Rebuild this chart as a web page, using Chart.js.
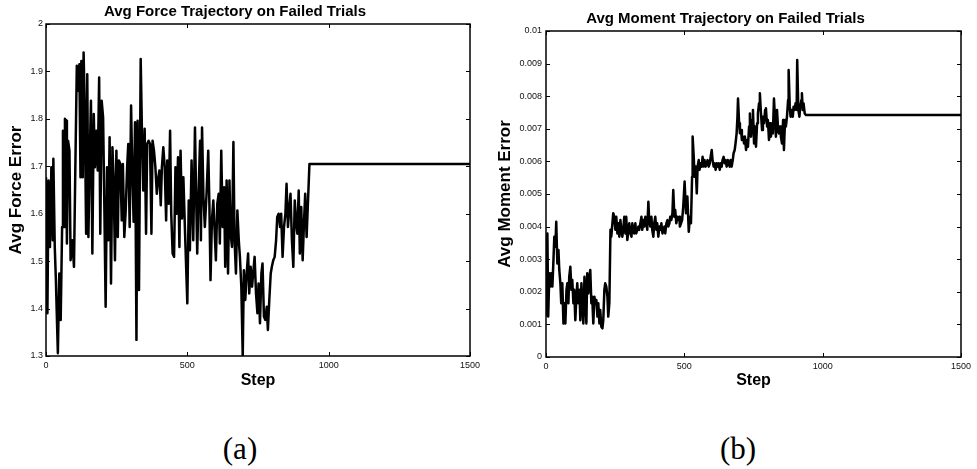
<!DOCTYPE html>
<html>
<head>
<meta charset="utf-8">
<script src="https://cdn.jsdelivr.net/npm/chart.js@4.4.1/dist/chart.umd.min.js"></script>
<style>
  html, body { margin: 0; padding: 0; background: #fff; }
  body { width: 977px; height: 469px; position: relative; overflow: hidden; }
  .box { position: absolute; }
  .cap { position: absolute; font-family: 'Liberation Serif', 'DejaVu Serif', serif; font-size: 31px; line-height: 31px; color: #000; transform: translate(-50%, -50%); white-space: nowrap; }
</style>
</head>
<body>
<div class="box" id="boxA" style="left:0px; top:0px; width:490px; height:400px;"><canvas id="chartA"></canvas></div>
<div class="box" id="boxB" style="left:490px; top:0px; width:487px; height:400px;"><canvas id="chartB"></canvas></div>
<div class="cap" style="left:240px; top:448px;">(a)</div>
<div class="cap" style="left:738px; top:448px;">(b)</div>
<script>
// ---------------- data ----------------
const forceSteps = [
  0,5,9,14,19,24,26,31,35,40,
  42,47,52,57,60,64,67,71,74,78,
  83,87,93,99,103,109,113,118,122,125,
  130,133,137,142,146,150,155,159,164,169,
  173,178,183,188,192,197,202,206,211,216,
  220,225,230,235,239,244,249,254,258,263,
  268,272,277,282,287,291,296,301,305,310,
  315,320,324,329,335,340,344,349,354,358,
  363,368,373,377,382,387,392,396,401,406,
  410,415,420,425,429,434,439,443,448,453,
  458,462,467,472,476,481,486,492,500,505,
  509,515,521,527,531,535,540,545,548,552,
  557,562,568,574,578,582,587,592,597,601,
  606,611,615,620,625,630,634,639,644,649,
  653,658,663,667,672,677,682,686,691,696,
  700,705,710,715,719,724,729,733,738,743,
  748,752,757,762,766,771,776,781,785,790,
  795,799,804,809,814,818,823,828,832,837,
  842,847,851,856,861,865,870,875,880,884,
  889,894,898,903,908,913,917,922,927,932,
  1500
];
const forceValues = [
  1.677,1.390,1.670,1.530,1.698,1.544,1.716,1.530,1.460,1.348,
  1.306,1.474,1.376,1.572,1.775,1.572,1.800,1.796,1.537,1.754,
  1.733,1.502,1.544,1.488,1.663,1.912,1.859,1.915,1.677,1.922,
  1.677,1.940,1.824,1.558,1.894,1.551,1.726,1.838,1.516,1.810,
  1.698,1.775,1.691,1.887,1.558,1.838,1.803,1.635,1.404,1.698,
  1.544,1.761,1.453,1.740,1.677,1.502,1.733,1.551,1.712,1.705,
  1.586,1.705,1.551,1.607,1.698,1.747,1.572,1.828,1.698,1.583,
  1.793,1.334,1.796,1.439,1.926,1.754,1.649,1.779,1.558,1.747,
  1.754,1.747,1.558,1.754,1.733,1.698,1.642,1.670,1.691,1.618,
  1.698,1.740,1.698,1.586,1.712,1.621,1.775,1.600,1.516,1.509,
  1.698,1.600,1.719,1.530,1.733,1.590,1.677,1.558,1.411,1.628,
  1.523,1.712,1.544,1.782,1.642,1.516,1.649,1.754,1.544,1.782,
  1.635,1.572,1.642,1.733,1.621,1.460,1.586,1.628,1.558,1.502,
  1.621,1.642,1.537,1.733,1.572,1.656,1.488,1.670,1.474,1.670,
  1.558,1.530,1.751,1.544,1.474,1.607,1.544,1.509,1.446,1.300,
  1.481,1.418,1.474,1.516,1.432,1.488,1.446,1.474,1.509,1.432,
  1.390,1.453,1.369,1.474,1.495,1.383,1.376,1.404,1.355,1.418,
  1.474,1.488,1.502,1.509,1.544,1.593,1.600,1.572,1.600,1.509,
  1.572,1.600,1.663,1.572,1.614,1.642,1.544,1.488,1.628,1.586,
  1.558,1.649,1.516,1.614,1.502,1.586,1.642,1.551,1.628,1.705,
  1.705
];
const momentSteps = [
  0,5,8,12,16,19,23,27,30,34,
  37,41,45,48,52,55,59,63,66,70,
  74,77,81,84,88,92,95,99,102,106,
  110,113,117,121,124,128,131,135,139,142,
  146,149,153,157,160,164,167,171,175,178,
  182,186,189,193,196,200,204,207,211,214,
  218,222,225,229,233,236,240,243,247,251,
  254,258,261,265,269,272,276,280,283,287,
  290,294,298,301,305,309,312,316,319,323,
  326,330,334,337,341,345,348,352,355,359,
  363,366,370,373,377,381,384,388,391,395,
  399,402,406,410,413,417,421,424,428,431,
  435,439,442,446,449,453,457,460,464,467,
  471,475,478,482,484,492,496,501,506,511,
  516,520,524,528,530,534,537,541,545,548,
  552,555,559,563,566,570,573,577,581,584,
  588,592,595,599,602,606,610,613,617,620,
  624,628,631,635,638,642,646,649,653,657,
  660,664,667,671,675,678,682,685,689,692,
  694,698,701,705,708,712,716,719,723,727,
  730,734,737,741,745,748,752,755,759,763,
  766,770,773,777,781,784,788,792,795,799,
  802,806,810,813,817,820,824,828,831,835,
  839,842,846,849,853,857,860,864,867,871,
  875,877,881,884,888,892,895,899,902,906,
  908,912,916,919,923,925,928,931,935,940,
  1500
];
const momentValues = [
  0.00124,0.00379,0.00124,0.00257,0.00216,0.00257,0.00216,0.00298,0.00369,0.00338,
  0.00415,0.00287,0.00328,0.00267,0.00226,0.00165,0.00226,0.00103,0.00165,0.00103,
  0.00206,0.00226,0.00165,0.00246,0.00277,0.00206,0.00236,0.00165,0.00206,0.00113,
  0.00185,0.00226,0.00165,0.00206,0.00113,0.00226,0.00165,0.00103,0.00246,0.00185,
  0.00103,0.00257,0.00195,0.00246,0.00267,0.00165,0.00185,0.00103,0.00185,0.00165,
  0.00175,0.00124,0.00165,0.00103,0.00144,0.00093,0.00088,0.00113,0.00206,0.00226,
  0.00216,0.00185,0.00124,0.00165,0.00390,0.00369,0.00410,0.00441,0.00430,0.00390,
  0.00430,0.00379,0.00410,0.00369,0.00420,0.00390,0.00369,0.00400,0.00430,0.00379,
  0.00430,0.00359,0.00390,0.00410,0.00379,0.00369,0.00410,0.00390,0.00379,0.00410,
  0.00379,0.00390,0.00400,0.00390,0.00410,0.00430,0.00390,0.00420,0.00400,0.00430,
  0.00410,0.00390,0.00476,0.00420,0.00400,0.00430,0.00390,0.00369,0.00410,0.00430,
  0.00390,0.00410,0.00369,0.00400,0.00390,0.00410,0.00379,0.00390,0.00400,0.00379,
  0.00410,0.00420,0.00400,0.00410,0.00430,0.00420,0.00441,0.00512,0.00430,0.00451,
  0.00410,0.00430,0.00420,0.00430,0.00400,0.00420,0.00461,0.00538,0.00441,0.00492,
  0.00384,0.00430,0.00410,0.00553,0.00676,0.00614,0.00553,0.00584,0.00502,0.00584,
  0.00604,0.00574,0.00594,0.00584,0.00614,0.00584,0.00604,0.00584,0.00594,0.00604,
  0.00584,0.00594,0.00614,0.00635,0.00604,0.00584,0.00594,0.00574,0.00594,0.00584,
  0.00594,0.00574,0.00594,0.00584,0.00604,0.00614,0.00594,0.00604,0.00584,0.00604,
  0.00594,0.00584,0.00604,0.00584,0.00604,0.00625,0.00635,0.00655,0.00686,0.00737,
  0.00793,0.00717,0.00686,0.00696,0.00666,0.00676,0.00655,0.00676,0.00635,0.00666,
  0.00645,0.00707,0.00747,0.00676,0.00727,0.00758,0.00655,0.00707,0.00645,0.00717,
  0.00747,0.00778,0.00809,0.00747,0.00696,0.00737,0.00717,0.00758,0.00763,0.00707,
  0.00727,0.00666,0.00717,0.00676,0.00707,0.00686,0.00793,0.00727,0.00676,0.00758,
  0.00696,0.00686,0.00707,0.00676,0.00655,0.00727,0.00635,0.00727,0.00707,0.00737,
  0.00788,0.00880,0.00768,0.00737,0.00758,0.00737,0.00768,0.00758,0.00778,0.00758,
  0.00911,0.00758,0.00737,0.00768,0.00788,0.00809,0.00758,0.00778,0.00747,0.00742,
  0.00742
];
const stepTicks = [0, 500, 1000, 1500];
const titles = ['Avg Force Trajectory on Failed Trials', 'Avg Moment Trajectory on Failed Trials'];
const yLabels = ['Avg Force Error', 'Avg Moment Error'];
const xLabel = 'Step';

// ---------------- drawing ----------------
const SANS = "'Liberation Sans', Arial, Helvetica, sans-serif";
Chart.defaults.font.family = SANS;
Chart.defaults.color = '#111';

const framePlugin = {
  id: 'matlabFrame',
  afterDatasetsDraw(chart) {
    const { ctx, chartArea: a, scales: { x, y } } = chart;
    ctx.save();
    ctx.strokeStyle = '#000';
    ctx.lineWidth = 1.5;
    ctx.strokeRect(a.left, a.top, a.right - a.left, a.bottom - a.top);
    ctx.lineWidth = 1;
    const L = 4;
    ctx.beginPath();
    x.ticks.forEach(t => {
      const px = Math.round(x.getPixelForValue(t.value)) + 0.5;
      ctx.moveTo(px, a.bottom); ctx.lineTo(px, a.bottom - L);
      ctx.moveTo(px, a.top); ctx.lineTo(px, a.top + L);
    });
    y.ticks.forEach(t => {
      const py = Math.round(y.getPixelForValue(t.value)) + 0.5;
      ctx.moveTo(a.left, py); ctx.lineTo(a.left + L, py);
      ctx.moveTo(a.right, py); ctx.lineTo(a.right - L, py);
    });
    ctx.stroke();
    ctx.restore();
  }
};

function makeChart(id, steps, values, cfg) {
  const pts = steps.map((s, i) => ({ x: s, y: values[i] }));
  return new Chart(document.getElementById(id), {
    type: 'line',
    data: { datasets: [{ data: pts, borderColor: '#000', borderWidth: 2.5, pointRadius: 0, tension: 0, fill: false, borderJoinStyle: 'round' }] },
    options: {
      responsive: true,
      maintainAspectRatio: false,
      devicePixelRatio: 1,
      animation: false,
      events: [],
      layout: { padding: { left: 0, right: cfg.padRight, top: 0, bottom: 0 } },
      plugins: {
        legend: { display: false },
        tooltip: { enabled: false },
        title: {
          display: true, text: cfg.title, color: '#000',
          font: { family: SANS, size: 15, weight: 'bold' },
          padding: { top: cfg.titleTop, bottom: 3 }
        }
      },
      scales: {
        x: {
          type: 'linear', min: 0, max: 1500,
          afterBuildTicks: s => { s.ticks = stepTicks.map(v => ({ value: v })); },
          afterFit: s => { s.height = cfg.xHeight; },
          grid: { display: false, drawTicks: false },
          border: { display: false },
          ticks: { padding: 4, maxRotation: 0, font: { size: 9 }, color: '#111', callback: v => String(v) },
          title: { display: true, text: xLabel, color: '#000', font: { family: SANS, size: 16, weight: 'bold' }, padding: { top: 0, bottom: 10 } }
        },
        y: {
          type: 'linear', min: cfg.yMin, max: cfg.yMax,
          afterFit: s => { s.width = cfg.yWidth; },
          grid: { display: false, drawTicks: false },
          border: { display: false },
          ticks: { stepSize: cfg.yStep, padding: cfg.yPad, font: { size: 9 }, color: '#111', callback: cfg.fmt },
          title: { display: true, text: cfg.yLabel, color: '#000', font: { family: SANS, size: 17, weight: 'bold' }, padding: { top: cfg.yTitlePad, bottom: 0 } }
        }
      }
    },
    plugins: [framePlugin]
  });
}

makeChart('chartA', forceSteps, forceValues, {
  title: titles[0], yLabel: yLabels[0], padRight: 20, titleTop: 3,
  xHeight: 44, yWidth: 46, yPad: 3, yTitlePad: 6,
  yMin: 1.3, yMax: 2, yStep: 0.1, fmt: v => String(parseFloat(v.toFixed(1)))
});
makeChart('chartB', momentSteps, momentValues, {
  title: titles[1], yLabel: yLabels[1], padRight: 16, titleTop: 10,
  xHeight: 43, yWidth: 56, yPad: 4, yTitlePad: 5,
  yMin: 0, yMax: 0.01, yStep: 0.001, fmt: v => String(parseFloat(v.toFixed(3)))
});
</script>
</body>
</html>
